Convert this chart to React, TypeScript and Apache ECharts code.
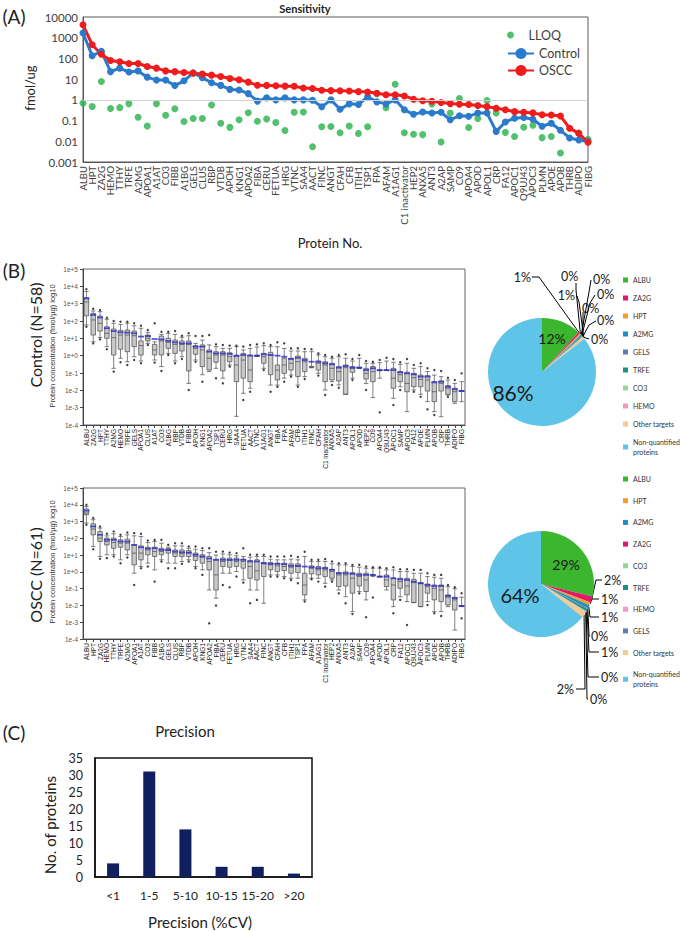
import React, { useEffect, useRef } from 'react';
import * as echarts from 'echarts';

// ---------------- Panel A : Sensitivity ----------------
const proteins = ['ALBU','HPT','ZA2G','HEMO','TTHY','TRFE','A2MG','APOA1','A1AT','CO3','FIBB','A1BG','GELS','CLUS','RBP','VTDB','APOH','KNG1','APOA2','FIBA','CERU','FETUA','HRG','VTNC','SAA4','AACT','FINC','ANGT','CFAH','CFB','ITIH1','TSP1','FPA','AFAM','A1AG1','C1 inactivator','HEP2','ANXA5','ANT3','A2AP','SAMP','CO9','APOA4','APOD','APOL1','CRP','FA12','APOC1','Q9UJ43','APOC3','PLMN','APOE','APOB','THRB','ADIPO','FIBG'];
const controlA = [1700,135,220,23,34,22,25,12.5,9,9,4.9,8.3,20,11.8,6.7,5,3.2,3.0,2.0,0.87,1.25,1.0,1.25,1.0,1.0,0.95,0.46,1.0,0.35,0.64,0.6,1.4,0.8,0.64,1.0,0.33,0.2,0.26,0.23,0.25,0.11,0.17,0.16,0.23,0.23,0.03,0.086,0.13,0.14,0.115,0.053,0.074,0.034,0.0145,0.0115,0.0098];
const osccA = [4200,460,160,80,69,57,57,41,34,25,23,21,19.5,17.5,15.6,13.5,10.8,9.3,7.2,5.1,5.0,4.8,4.6,4.5,3.7,3.5,2.9,2.8,2.75,2.7,2.5,2.4,2.1,1.75,1.75,1.55,1.08,0.9,0.85,0.75,0.66,0.62,0.6,0.53,0.47,0.39,0.33,0.27,0.25,0.235,0.19,0.185,0.165,0.043,0.024,0.009];
const lloqA = [0.69,0.48,7.7,0.38,0.42,0.66,0.145,0.055,0.66,0.18,0.37,0.09,0.125,0.125,0.57,0.074,0.047,0.11,0.24,0.093,0.12,0.08,0.033,0.25,0.26,0.0055,0.05,0.052,0.026,0.055,0.024,0.05,2.0,0.42,5.7,0.026,0.022,0.021,0.64,0.0093,0.23,1.15,0.046,0.125,0.93,0.235,0.027,0.017,0.048,0.06,0.015,0.017,0.0027,null,0.025,0.0125];

// ---------------- Panel B : box plots (log10 fmol/µg) ----------------
const controlNames = ['ALBU','ZA2G','HPT','TTHY','A2MG','HEMO','TRFE','GELS','APOA1','CLUS','A1AT','CO3','A1BG','RBP','VTDB','FIBB','APOH','KNG1','APOA2','TSP1','CERU','HRG','SAA4','FETUA','AACT','VTNC','A1AG1','ANGT','FIBA','FPA','AFAM','CFB','ITIH1','FINC','CFAH','C1 inactivator','ANXA5','A2AP','ANT3','APOL1','APOD','HEP2','CO9','APOA4','Q9UJ43','APOC1','SAMP','APOC3','FA12','APOE','PLMN','APOB','CRP','THRB','ADIPO','FIBG'];
// [lower whisker, Q1, median, Q3, upper whisker]
const controlBox = [
  [1.77,2.3,3.1,3.35,3.7],[0.8,1.19,2.06,2.44,2.58],[1.04,1.42,1.87,2.29,2.54],[0.52,1.0,1.29,1.67,2.1],
  [-0.73,0.04,1.04,1.54,1.87],[-0.15,0.37,1.19,1.46,1.8],[-0.35,0.23,1.19,1.48,1.87],[-0.06,0.52,1.15,1.42,1.73],
  [-0.31,0.04,0.58,0.85,1.58],[0.71,0.85,1.0,1.19,1.35],[-0.25,0.04,0.33,0.65,0.8],[-0.63,0.04,0.85,1.13,1.23],
  [0.13,0.42,0.77,1.0,1.29],[-0.31,0.13,0.65,0.9,1.23],[-0.06,0.27,0.65,0.85,1.06],[-1.6,-0.88,0.65,0.85,1.15],
  [-0.25,0.08,0.42,0.58,0.71],[-1.1,-0.63,0.33,0.62,0.9],[-0.92,-0.83,-0.15,0.33,0.62],[-0.73,-0.38,0.04,0.23,0.52],
  [-1.3,-0.88,0.04,0.23,0.42],[-0.54,-0.35,-0.06,0.17,0.42],[-3.5,-1.5,-0.54,0.04,0.52],[-2.17,-1.3,-0.25,0.13,0.33],
  [-1.88,-1.5,-0.83,0.04,0.42],[-0.05,-0.02,0,0.02,0.5],[-0.73,-0.44,-0.06,0.13,0.58],[-1.7,-1.1,0.04,0.19,0.52],
  [-1.7,-1.4,-0.83,-0.54,0.52],[-1.3,-1.02,-0.54,-0.15,0.42],[-1.12,-0.83,-0.44,-0.15,0.27],[-1.7,-1.2,-0.35,-0.02,0.27],
  [-1.21,-0.92,-0.35,-0.15,0.23],[-0.7,-0.67,-0.65,-0.62,0.23],[-1.02,-0.83,-0.44,-0.31,0.04],[-1.98,-1.5,-0.54,-0.35,-0.06],
  [-1.5,-1.4,-0.73,-0.44,-0.15],[-1.69,-1.46,-0.92,-0.63,-0.06],[-2.23,-2.23,-0.69,-0.54,-0.15],[-1.3,-0.96,-0.73,-0.63,-0.31],
  [-0.73,-0.73,-0.7,-0.67,-0.15],[-1.6,-1.35,-1.02,-0.73,-0.44],[-2.42,-1.5,-0.92,-0.63,-0.44],[-1.3,-0.87,-0.85,-0.83,-0.4],
  [-0.86,-0.86,-0.85,-0.84,-0.31],[-2.46,-1.88,-1.3,-0.73,-0.38],[-1.79,-1.5,-1.1,-0.92,-0.5],[-3.23,-2.08,-1.6,-0.96,-0.44],
  [-1.98,-1.79,-1.27,-1.02,-0.73],[-2.23,-1.79,-1.37,-1.12,-0.63],[-2.65,-2.04,-1.4,-1.15,-0.92],[-3.23,-2.65,-2.08,-1.5,-1.12],
  [-3.52,-2.04,-1.6,-1.46,-1.21],[-2.27,-2.23,-1.88,-1.73,-1.4],[-2.75,-2.65,-2.08,-1.88,-1.6],[-2.65,-2.06,-2.04,-2.02,-1.5]
];
const controlMean = [3.3,2.35,2.2,1.58,1.42,1.35,1.33,1.29,1.1,1.13,0.96,0.94,0.85,0.77,0.71,0.71,0.52,0.52,0.23,0.13,0.13,0.1,-0.02,0.04,0.0,0.0,0.08,0.04,0.0,-0.06,-0.19,-0.12,-0.25,-0.35,-0.35,-0.44,-0.5,-0.69,-0.6,-0.69,-0.69,-0.83,-0.73,-0.83,-0.83,-0.83,-0.96,-1.02,-1.08,-1.21,-1.21,-1.54,-1.5,-1.79,-1.94,-2.04];
const controlDotHi = [3.83,2.7,2.63,2.19,2.0,1.96,1.96,1.87,1.73,1.48,1.87,1.38,1.38,1.42,1.15,1.29,1.13,1.13,1.19,0.65,0.62,0.58,0.58,0.52,0.62,0.65,0.71,0.62,0.77,0.71,0.42,0.42,0.38,0.37,0.13,0.04,-0.06,0.04,0.08,-0.19,0.04,-0.31,-0.35,-0.25,-0.12,-0.19,-0.38,-0.19,-0.54,-0.44,-0.73,-0.83,-0.88,-1.27,-1.4,-1.02];
const controlDotLo = [1.67,0.71,0.94,0.37,-0.92,-0.38,-0.54,-0.25,-0.44,0.62,-0.4,-0.88,0.04,-0.44,-0.19,-1.98,-0.35,-1.5,null,-1.3,-1.6,-0.63,null,-2.56,-2.08,null,-0.83,-2.08,-1.8,-1.5,-1.21,-1.8,-1.35,null,-1.15,-2.27,-1.69,-1.85,null,-1.4,null,-1.98,null,-3.27,null,-2.85,-1.98,null,-2.08,-2.37,-3.1,-3.42,null,-2.37,null,null];

const osccNames = proteins;
const osccBox = [
  [2.91,3.41,3.51,3.75,3.9],[1.51,2.21,2.55,2.87,3.11],[0.92,1.81,2.01,2.41,2.61],[1.02,1.61,1.81,2.01,2.15],
  [1.02,1.41,1.75,2.01,2.27],[0.72,1.47,1.71,1.91,2.11],[1.02,1.31,1.71,1.95,2.21],[-0.08,0.42,1.12,1.61,2.15],
  [0.32,0.72,1.12,1.55,2.11],[0.52,1.02,1.31,1.47,1.75],[0.12,0.92,1.21,1.47,1.81],[0.72,1.02,1.21,1.41,1.71],
  [0.52,1.12,1.27,1.39,1.47],[0.52,0.92,1.12,1.31,1.55],[0.62,0.92,1.08,1.31,1.55],[0.72,0.92,1.12,1.27,1.41],
  [0.32,0.68,0.92,1.12,1.35],[0.12,0.52,0.88,1.02,1.27],[-1.08,0.12,0.62,0.92,1.15],[-1.57,-1.08,-0.18,0.72,1.0],
  [-0.08,0.32,0.62,0.82,1.07],[-0.08,0.28,0.68,0.82,1.02],[0.02,0.32,0.62,0.82,0.96],[-0.48,0.22,0.62,0.76,0.92],
  [-1.08,-0.38,0.32,0.68,0.88],[-1.08,-0.48,0.06,0.72,0.92],[-1.87,-0.28,0.48,0.56,0.92],[-0.18,0.12,0.42,0.56,0.76],
  [-0.18,0.02,0.36,0.52,0.72],[-0.28,0.08,0.32,0.52,0.72],[-0.38,-0.08,0.28,0.48,0.76],[-0.38,-0.04,0.32,0.48,0.72],
  [-1.67,-1.37,-0.78,-0.08,0.92],[-0.38,-0.12,0.22,0.36,0.62],[-0.38,-0.18,0.12,0.32,0.62],[-0.68,-0.28,0.12,0.28,0.62],
  [-0.48,-0.38,0.02,0.16,0.48],[-1.08,-0.88,-0.18,-0.04,0.42],[-1.48,-0.84,-0.18,0.0,0.42],[-2.37,-1.27,-0.38,-0.04,0.32],
  [-1.17,-0.84,-0.28,-0.08,0.28],[-1.67,-1.17,-0.48,-0.08,0.22],[-0.28,-0.2,-0.19,-0.18,0.22],[-0.3,-0.3,-0.28,-0.26,0.22],
  [-1.08,-0.88,-0.48,-0.18,0.12],[-2.07,-1.67,-0.78,-0.38,0.12],[-1.48,-0.98,-0.58,-0.38,0.02],[-1.77,-1.37,-0.84,-0.38,0.02],
  [-1.83,-1.83,-0.64,-0.44,-0.08],[-2.07,-2.07,-0.68,-0.64,-0.08],[-1.77,-1.27,-0.88,-0.72,-0.28],[-2.37,-1.67,-0.98,-0.78,-0.32],
  [-2.37,-1.77,-1.08,-0.78,-0.38],[-2.07,-1.97,-1.51,-1.37,-0.88],[-3.47,-2.27,-1.67,-1.51,-1.0],[-2.07,-2.05,-2.04,-2.03,-1.51]
];
const osccMean = [3.65,2.71,2.21,1.91,1.91,1.81,1.81,1.61,1.47,1.39,1.41,1.31,1.31,1.21,1.17,1.15,1.02,0.92,0.8,0.72,0.72,0.72,0.72,0.72,0.62,0.62,0.52,0.48,0.48,0.46,0.36,0.36,0.32,0.28,0.22,0.22,0.12,-0.08,-0.08,-0.12,-0.18,-0.18,-0.18,-0.28,-0.28,-0.38,-0.44,-0.48,-0.58,-0.68,-0.78,-0.84,-0.84,-1.43,-1.57,-2.03];
const osccDotHi = [4.0,3.21,2.71,2.27,2.41,2.21,2.35,2.31,2.27,1.87,1.91,1.91,1.61,1.71,1.71,1.51,1.51,1.41,1.41,1.2,1.21,1.15,1.11,1.41,1.02,1.02,1.02,0.92,0.92,0.92,0.96,0.88,1.2,0.72,0.72,0.76,0.62,0.52,0.52,0.42,0.42,0.32,0.28,0.28,0.22,0.28,0.16,0.16,0.12,0.12,-0.08,-0.18,-0.18,-0.78,-0.92,-1.27];
const osccDotLo = [2.81,1.35,0.78,0.82,0.92,0.52,0.86,-0.78,0.22,0.32,-0.58,0.62,0.22,0.22,0.48,0.62,0.22,-0.18,-3.07,-2.0,-0.78,-0.92,-0.28,-0.64,-1.87,-1.67,null,-0.28,-0.28,-0.38,-0.48,-0.68,-1.77,-0.44,-0.58,-0.88,-0.58,-1.28,-1.87,-2.51,-1.28,-2.7,-1.53,null,null,-2.47,-1.67,-3.17,null,null,-1.97,-2.47,-2.63,null,null,-2.77];

// ---------------- Panel B : pies (% of total protein) ----------------
const ctrlPieNames = ['ALBU','ZA2G','HPT','A2MG','GELS','TRFE','CO3','HEMO','Other targets','Non-quantified proteins'];
const ctrlPieValues = [11.8,0.6,0.4,0.3,0.2,0.3,0.1,0.1,0.6,85.6];
const osccPieNames = ['ALBU','HPT','A2MG','ZA2G','CO3','TRFE','HEMO','GELS','Other targets','Non-quantified proteins'];
const osccPieValues = [28.8,1.9,0.9,1.0,0.3,0.7,0.3,0.2,1.6,64.3];
const pieColors: Record<string, string> = {
  'ALBU': '#3cb52f', 'ZA2G': '#e2186a', 'HPT': '#f0a12a', 'A2MG': '#1e8fbf', 'GELS': '#5d7cb6',
  'TRFE': '#1a9282', 'CO3': '#93d89a', 'HEMO': '#f39abf', 'Other targets': '#f6c98e', 'Non-quantified proteins': '#5ec4e8'
};
const osccPieColors: Record<string, string> = { ...pieColors, 'HPT': '#e2186a', 'A2MG': '#f0a12a', 'ZA2G': '#1e8fbf', 'CO3': '#5d7cb6', 'HEMO': '#93d89a', 'GELS': '#f39abf' };

// ---------------- Panel C : Precision ----------------
const precisionCats = ['<1', '1-5', '5-10', '10-15', '15-20', '>20'];
const precisionCounts = [4, 31, 14, 3, 3, 1];

const CAL = 'Lato, "Open Sans", sans-serif';
const ARI = '"Liberation Sans", Arial, sans-serif';

type Spec = { x: number; y: number; align: string; bend?: number[]; end?: number[] };
const ctrlLabelSpec: Record<number, Spec> = {
  0: { x: 552, y: 338, align: 'center' },
  1: { x: 531, y: 277, align: 'right', bend: [539, 277], end: [532, 277] },
  2: { x: 561, y: 276, align: 'left', bend: [576, 290], end: [576, 283] },
  3: { x: 593, y: 279, align: 'left', bend: [589, 292], end: [591, 280] },
  4: { x: 597, y: 294, align: 'left', bend: [590, 303], end: [595, 295] },
  5: { x: 582, y: 308, align: 'left', bend: [583, 318], end: [583, 312] },
  6: { x: 597, y: 320, align: 'left', bend: [589, 325], end: [596, 321] },
  7: { x: 591, y: 339, align: 'left', bend: [586, 338], end: [589, 339] },
  8: { x: 575, y: 295, align: 'right', bend: [579, 302], end: [577, 296] },
  9: { x: 513, y: 392, align: 'center' }
};
const osccLabelSpec: Record<number, Spec> = {
  0: { x: 566, y: 564, align: 'center' },
  1: { x: 604, y: 580, align: 'left', bend: [596, 580], end: [602, 580] },
  2: { x: 601, y: 599, align: 'left', bend: [592, 599], end: [599, 599] },
  3: { x: 601, y: 617, align: 'left', bend: [590, 617], end: [599, 617] },
  4: { x: 591, y: 636, align: 'left', bend: [589, 636], end: [590, 636] },
  5: { x: 601, y: 652, align: 'left', bend: [589, 652], end: [599, 652] },
  6: { x: 601, y: 677, align: 'left', bend: [588, 677], end: [599, 677] },
  7: { x: 590, y: 699, align: 'left', bend: [587, 699], end: [588, 699] },
  8: { x: 574, y: 689, align: 'right', bend: [585, 689], end: [576, 689] },
  9: { x: 520, y: 595, align: 'center' }
};

function makeLayout(spec: Record<number, Spec>) {
  return (p: any) => {
    const s = spec[p.dataIndex];
    if (!s) return {};
    const out: any = { x: s.x, y: s.y, align: s.align, verticalAlign: 'middle' };
    if (s.bend && s.end && p.labelLinePoints && p.labelLinePoints[0]) {
      out.labelLinePoints = [p.labelLinePoints[0], s.bend, s.end];
    }
    return out;
  };
}

function pieSeries(names: string[], values: number[], colors: Record<string, string>, center: number[], r: number, spec: Record<number, Spec>, bigSizes: number[]) {
  return {
    type: 'pie', center, radius: r, startAngle: 90, clockwise: true, avoidLabelOverlap: false,
    emphasis: { disabled: true }, silent: true,
    data: names.map((n, i) => {
      const big = i === 0 || i === names.length - 1;
      return {
        name: n, value: values[i], itemStyle: { color: colors[n] },
        label: big ? { position: 'inside', fontSize: i === 0 ? bigSizes[0] : bigSizes[1] } : { position: 'outside' },
        labelLine: { show: !big }
      };
    }),
    label: { show: true, formatter: (p: any) => Math.round(p.percent) + '%', color: '#1a1a1a', fontSize: 12.5, fontFamily: CAL },
    labelLine: { show: true, length: 6, length2: 6, lineStyle: { color: '#000', width: 1 } },
    labelLayout: makeLayout(spec)
  };
}

function boxGroup(idx: number, box: number[][], mean: number[], hi: (number | null)[], lo: (number | null)[]) {
  const pts = (arr: (number | null)[]) => arr.map((v, i) => (v == null ? null : [i, v])).filter((d) => d) as number[][];
  return [
    { type: 'boxplot', xAxisIndex: idx, yAxisIndex: idx, data: box, boxWidth: [4.5, 4.5], silent: true,
      itemStyle: { color: '#c8c8c8', borderColor: '#4a4a4a', borderWidth: 0.7 } },
    { type: 'scatter', xAxisIndex: idx, yAxisIndex: idx, data: pts(hi).concat(pts(lo)), symbol: 'circle', symbolSize: 2.4,
      itemStyle: { color: '#111' }, silent: true },
    { type: 'scatter', xAxisIndex: idx, yAxisIndex: idx, data: mean.map((v, i) => [i, v]), symbol: 'rect', symbolSize: [6, 1.8],
      itemStyle: { color: '#2a2ad0' }, silent: true, z: 4 }
  ];
}

function boxAxes(idx: number, names: string[]) {
  return {
    x: {
      type: 'category', gridIndex: idx, data: names,
      axisLine: { onZero: false, lineStyle: { color: '#444', width: 1 } },
      axisTick: { show: true, length: 3, alignWithLabel: true, lineStyle: { color: '#444' } },
      axisLabel: { rotate: 90, interval: 0, fontSize: 6.5, color: '#222', fontFamily: ARI, margin: 4 }
    },
    y: {
      type: 'value', gridIndex: idx, min: -4, max: 5, interval: 1,
      axisLine: { show: true, onZero: false, lineStyle: { color: '#444' } },
      axisTick: { show: true, length: 3, lineStyle: { color: '#444' } },
      splitLine: { show: false },
      axisLabel: { fontSize: 6.5, color: '#555', fontFamily: ARI, margin: 5,
        formatter: (v: number) => (v >= 0 ? '1e+' + v : '1e' + v) }
    }
  };
}

function buildOption() {
  const b1 = boxAxes(1, controlNames);
  const b2 = boxAxes(2, osccNames);
  const txt = (text: string, x: number, y: number, size: number, opts: any = {}) => ({
    type: 'text', x, y, rotation: opts.rot ? Math.PI / 2 : 0, silent: true,
    style: { text, fontSize: size, fontFamily: opts.font || CAL, fontWeight: opts.bold ? 'bold' : 'normal',
      fill: opts.color || '#222', align: opts.align || 'center', verticalAlign: 'middle' }
  });
  const pieLegend = (names: string[], top: number, gap: number) => ({
    data: names, orient: 'vertical', left: 623, top, padding: 0, itemGap: gap, icon: 'rect',
    itemWidth: 5, itemHeight: 5, selectedMode: false,
    formatter: (n: string) => (n === 'Non-quantified proteins' ? 'Non-quantified\nproteins' : n),
    textStyle: { fontSize: 7, lineHeight: 10, color: '#333', fontFamily: CAL }
  });
  return {
    animation: false,
    backgroundColor: '#fff',
    grid: [
      { left: 83, top: 17, width: 505, height: 145, show: true, borderColor: '#595959', borderWidth: 1 },
      { left: 83, top: 269, width: 382, height: 156, show: true, borderColor: '#666', borderWidth: 1 },
      { left: 83, top: 488, width: 382, height: 151, show: true, borderColor: '#666', borderWidth: 1 },
      { left: 95, top: 758, width: 217, height: 119, show: true, borderColor: '#111', borderWidth: 1.5 }
    ],
    xAxis: [
      { type: 'category', gridIndex: 0, data: proteins, boundaryGap: false,
        axisLine: { onZero: false, lineStyle: { color: '#595959' } }, axisTick: { show: false },
        axisLabel: { rotate: 90, interval: 0, fontSize: 9.5, color: '#404040', fontFamily: CAL, margin: 4 } },
      b1.x, b2.x,
      { type: 'category', gridIndex: 3, data: precisionCats,
        axisLine: { onZero: false, lineStyle: { color: '#111', width: 1.5 } }, axisTick: { show: false },
        axisLabel: { interval: 0, fontSize: 12, color: '#222', fontFamily: CAL, margin: 12 } }
    ],
    yAxis: [
      { type: 'log', gridIndex: 0, min: 0.001, max: 10000, logBase: 10, splitNumber: 7,
        axisLine: { show: true, lineStyle: { color: '#595959' } }, axisTick: { show: false }, splitLine: { show: false },
        axisLabel: { fontSize: 11.5, color: '#404040', fontFamily: CAL, margin: 5,
          formatter: (v: number) => String(Number(v.toPrecision(3))) } },
      b1.y, b2.y,
      { type: 'value', gridIndex: 3, min: 0, max: 35, interval: 5,
        axisLine: { show: true, lineStyle: { color: '#111', width: 1.5 } }, axisTick: { show: false }, splitLine: { show: false },
        axisLabel: { fontSize: 12.5, color: '#222', fontFamily: CAL, margin: 12 } }
    ],
    legend: [
      { data: ['LLOQ'], orient: 'vertical', left: 507, top: 28.5, padding: 0,
        itemWidth: 26, itemHeight: 7, selectedMode: false,
        textStyle: { fontSize: 12.5, color: '#404040', fontFamily: CAL } },
      { data: ['Control', 'OSCC'], orient: 'vertical', left: 507, top: 47, padding: 0, itemGap: 4,
        itemWidth: 26, itemHeight: 14, selectedMode: false,
        textStyle: { fontSize: 12.5, color: '#404040', fontFamily: CAL } },
      pieLegend(ctrlPieNames, 275, 8),
      pieLegend(osccPieNames, 474, 11.7)
    ],
    series: [
      { name: 'Control', type: 'line', xAxisIndex: 0, yAxisIndex: 0, data: controlA, symbol: 'circle', symbolSize: 7,
        lineStyle: { width: 3, color: '#2a7bcc' }, itemStyle: { color: '#2a7bcc' }, silent: true,
        markLine: { silent: true, symbol: ['none', 'none'], label: { show: false },
          lineStyle: { color: '#d0d0d0', width: 1, type: 'solid' }, data: [{ yAxis: 1 }] } },
      { name: 'OSCC', type: 'line', xAxisIndex: 0, yAxisIndex: 0, data: osccA, symbol: 'circle', symbolSize: 7,
        lineStyle: { width: 3, color: '#f01c1c' }, itemStyle: { color: '#f01c1c' }, silent: true },
      { name: 'LLOQ', type: 'scatter', xAxisIndex: 0, yAxisIndex: 0, data: lloqA.map((v) => (v == null ? '-' : v)),
        symbol: 'circle', symbolSize: 7, itemStyle: { color: '#25b24a' }, silent: true },
      ...boxGroup(1, controlBox, controlMean, controlDotHi, controlDotLo),
      ...boxGroup(2, osccBox, osccMean, osccDotHi, osccDotLo),
      pieSeries(ctrlPieNames, ctrlPieValues, pieColors, [542, 372], 54, ctrlLabelSpec, [14, 21]),
      pieSeries(osccPieNames, osccPieValues, osccPieColors, [541, 584], 53, osccLabelSpec, [14, 20]),
      { type: 'bar', xAxisIndex: 3, yAxisIndex: 3, data: precisionCounts, barWidth: 12, silent: true,
        itemStyle: { color: '#0f1f5f' } }
    ],
    graphic: [
      txt('(A)', 14, 16, 19),
      txt('Sensitivity', 305, 8, 11, { bold: true }),
      txt('fmol/ug', 30, 88, 13, { rot: true }),
      txt('Protein No.', 330, 243, 13),
      txt('(B)', 14, 270, 19),
      txt('Control (N=58)', 35, 335, 16, { rot: true }),
      txt('Protein concentration (fmol/\u00b5g) log10', 52, 346, 7.5, { rot: true, font: ARI, color: '#333' }),
      txt('OSCC (N=61)', 35, 575, 16, { rot: true }),
      txt('Protein concentration (fmol/\u00b5g) log10', 52, 562, 7.5, { rot: true, font: ARI, color: '#333' }),
      txt('(C)', 14, 732, 19),
      txt('Precision', 185, 731, 15),
      txt('No. of proteins', 50, 825, 15, { rot: true }),
      txt('Precision (%CV)', 200, 922, 15)
    ]
  };
}

export default function App() {
  const ref = useRef<HTMLDivElement>(null);
  useEffect(() => {
    const chart = echarts.init(ref.current as HTMLDivElement, null, { renderer: 'svg' });
    chart.setOption(buildOption() as any);
    return () => chart.dispose();
  }, []);
  return <div ref={ref} style={{ position: 'absolute', left: 0, top: 0, width: 680, height: 931, background: '#fff' }} />;
}
